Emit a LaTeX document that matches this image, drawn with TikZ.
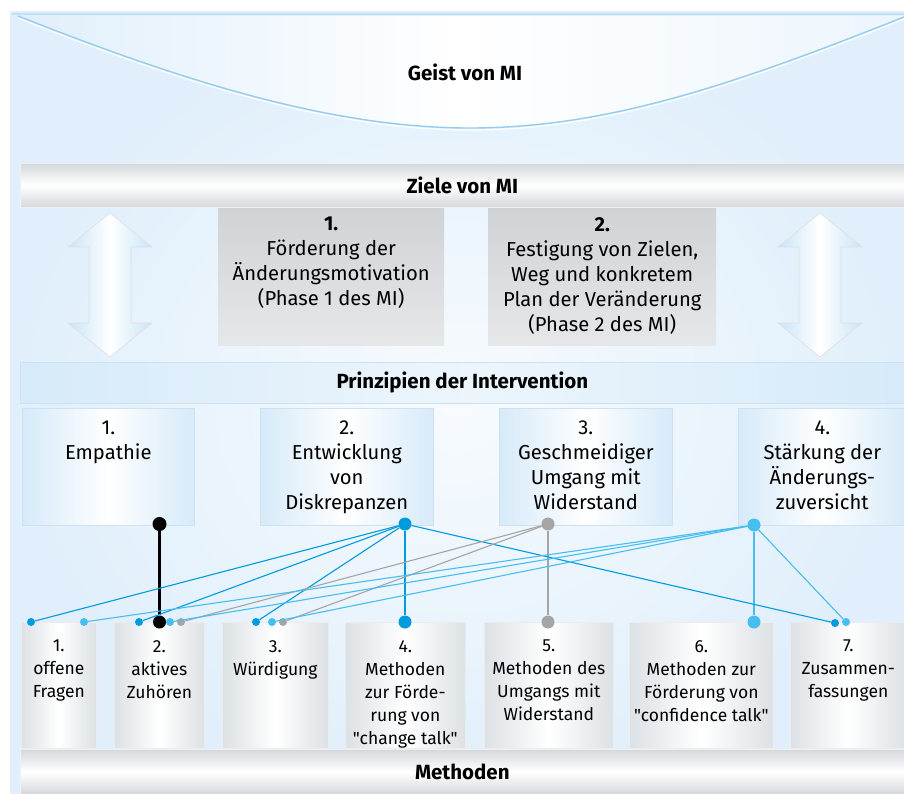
\documentclass[tikz,border=0pt]{standalone}
\usepackage{fontspec}
\setmainfont{Fira Sans}[Ligatures=TeXOff]
\usetikzlibrary{positioning}
\definecolor{bgblue}{RGB}{224,239,251}
\definecolor{edgeblue}{RGB}{205,225,240}
\definecolor{curveblue}{RGB}{150,205,238}
\definecolor{pblue}{RGB}{214,234,249}
\definecolor{bandgray}{RGB}{212,216,220}
\definecolor{goalgray}{RGB}{208,211,214}
\definecolor{mgray}{RGB}{220,225,229}
\definecolor{mblue}{RGB}{0,155,222}
\definecolor{lblue}{RGB}{70,190,240}
\definecolor{dgray}{RGB}{165,165,165}
\newcommand{\headfont}{\bfseries\fontsize{20.5}{24}\selectfont}
\newcommand{\boxfont}{\fontsize{20.2}{25}\selectfont}
\newcommand{\methfont}{\fontsize{17.5}{23}\selectfont}
\begin{document}
\begin{tikzpicture}[x=1pt,y=-1pt,
  grayband/.style={anchor=north west,inner sep=0pt,draw=white!88!gray,line width=0.6pt,
    top color=bandgray,bottom color=bandgray,middle color=white,font=\headfont},
  blueband/.style={anchor=north west,inner sep=0pt,draw=edgeblue,line width=0.6pt,
    left color=pblue,right color=pblue,middle color=white!55!pblue,font=\headfont},
  goalbox/.style={anchor=north west,inner sep=0pt,top color=goalgray,bottom color=goalgray!55},
  princbox/.style={anchor=north west,inner sep=0pt,draw=edgeblue,line width=0.6pt,
    left color=pblue,right color=pblue,middle color=white},
  methbox/.style={anchor=north west,inner sep=0pt,draw=white!85!gray,line width=0.6pt,
    left color=mgray,right color=mgray,middle color=white},
  boxtext/.style={align=center,inner sep=0pt,anchor=north,font=\boxfont},
  methtext/.style={align=center,inner sep=0pt,anchor=north,font=\methfont},
  updown/.style={left color=pblue!80!curveblue,right color=pblue!80!curveblue,middle color=white,
    draw=white!75!gray,line width=0.6pt},
  bigdot/.style={circle,inner sep=0pt,minimum size=13pt,fill=#1},
  smalldot/.style={circle,inner sep=0pt,minimum size=8pt,fill=#1},
  stem/.style={line width=2.6pt,#1},
  link/.style={line width=1.1pt,#1}]
\useasboundingbox (0,0) rectangle (904,793);
% background
\fill[bgblue] (10,11) rectangle (904,793);
\shade[inner color=white!75!bgblue,outer color=bgblue] (10,11) rectangle (904,793);
% Geist von MI
\path[left color=bgblue,right color=bgblue!60,middle color=white]
  (18,16) .. controls (180,80) and (330,128) .. (470,128)
  .. controls (610,128) and (740,82) .. (904,17) -- (904,16) -- cycle;
\draw[white,line width=1.2pt] (18,18) .. controls (180,82) and (330,130) .. (470,130)
  .. controls (610,130) and (740,84) .. (904,19);
\draw[curveblue,line width=1.4pt] (18,16) .. controls (180,80) and (330,128) .. (470,128)
  .. controls (610,128) and (740,82) .. (904,17);
\draw[curveblue!60,line width=2pt] (12,14) -- (904,14);
\node[font=\headfont] (geist) at (465,72) {Geist von MI};

% Ziele von MI
\node[grayband,minimum width=884,minimum height=44] (ziele) at (20,163) {Ziele von MI};
\node[goalbox,minimum width=226,minimum height=137] (g1) at (218,208) {};
\node[goalbox,minimum width=228,minimum height=137] (g2) at (488,208) {};
\node[boxtext,below=9pt of g1.north] (g1t)
  {\textbf{1.}\\Förderung der\\Änderungsmotivation\\(Phase 1 des MI)};
\node[boxtext,below=9pt of g2.north] (g2t)
  {\textbf{2.}\\Festigung von Zielen,\\Weg und konkretem\\Plan der Veränderung\\(Phase 2 des MI)};
\path[updown] (110,213) -- (152,247) -- (131,247) -- (131,323) -- (152,323) -- (110,357)
  -- (68,323) -- (89,323) -- (89,247) -- (68,247) -- cycle;
\path[updown] (820,213) -- (862,247) -- (841,247) -- (841,323) -- (862,323) -- (820,357)
  -- (778,323) -- (799,323) -- (799,247) -- (778,247) -- cycle;

% Prinzipien der Intervention
\node[blueband,minimum width=884,minimum height=41] (prinz) at (20,362) {Prinzipien der Intervention};
\node[princbox,minimum width=172,minimum height=117] (p1) at (22,408) {};
\node[princbox,minimum width=173,minimum height=117] (p2) at (260,408) {};
\node[princbox,minimum width=173,minimum height=117] (p3) at (499,408) {};
\node[princbox,minimum width=168,minimum height=117] (p4) at (738,408) {};
\node[boxtext,below=13pt of p1.north] (p1t) {1.\\Empathie};
\node[boxtext,below=13pt of p2.north] (p2t) {2.\\Entwicklung\\von\\Diskrepanzen};
\node[boxtext,below=13pt of p3.north] (p3t) {3.\\Geschmeidiger\\Umgang mit\\Widerstand};
\node[boxtext,below=13pt of p4.north] (p4t) {4.\\Stärkung der\\Änderungs-\\zuversicht};

% Methoden
\node[methbox,minimum width=75,minimum height=126] (m1) at (21,622) {};
\node[methbox,minimum width=90,minimum height=126] (m2) at (114,622) {};
\node[methbox,minimum width=106,minimum height=126] (m3) at (222,622) {};
\node[methbox,minimum width=120,minimum height=126] (m4) at (345,622) {};
\node[methbox,minimum width=129,minimum height=126] (m5) at (484,622) {};
\node[methbox,minimum width=144,minimum height=126] (m6) at (629,622) {};
\node[methbox,minimum width=116,minimum height=126] (m7) at (790,622) {};
\node[methtext,below=18pt of m1.north] (m1t) {1.\\offene\\Fragen};
\node[methtext,below=18pt of m2.north] (m2t) {2.\\aktives\\Zuhören};
\node[methtext,below=18pt of m3.north] (m3t) {3.\\Würdigung};
\node[methtext,below=18pt of m4.north] (m4t) {4.\\Methoden\\zur Förde-\\rung von\\"change talk"};
\node[methtext,below=18pt of m5.north] (m5t) {5.\\Methoden des\\Umgangs mit\\Widerstand};
\node[methtext,below=18pt of m6.north] (m6t) {6.\\Methoden zur\\Förderung von\\"confidence talk"};
\node[methtext,below=18pt of m7.north] (m7t) {7.\\Zusammen-\\fassungen};
\node[grayband,minimum width=884,minimum height=45] (meth) at (20,749) {Methoden};

% dots
\node[bigdot=black,minimum size=14pt] (p1d) at (159.5,524) {};
\node[bigdot=mblue] (p2d) at (405,524) {};
\node[bigdot=dgray] (p3d) at (548,524) {};
\node[bigdot=lblue] (p4d) at (754,525) {};
\node[smalldot=mblue] (m1a) at (31,622) {};
\node[smalldot=lblue] (m1b) at (84,622) {};
\node[smalldot=mblue] (m2a) at (139,622) {};
\node[bigdot=black] (m2b) at (159.5,622) {};
\node[smalldot=lblue] (m2c) at (170,622) {};
\node[smalldot=dgray] (m2d) at (181,622) {};
\node[smalldot=mblue] (m3a) at (256,622) {};
\node[smalldot=lblue] (m3b) at (272,622) {};
\node[smalldot=dgray] (m3c) at (283,622) {};
\node[bigdot=mblue] (m4d) at (405,622) {};
\node[bigdot=dgray] (m5d) at (548,622) {};
\node[bigdot=lblue] (m6d) at (754,622) {};
\node[smalldot=mblue] (m7a) at (835,623) {};
\node[smalldot=lblue] (m7b) at (846,622) {};

% connections
\draw[stem=black,line width=3pt] (p1d) -- (m2b);
\draw[stem=mblue] (p2d) -- (m4d);
\draw[stem=dgray] (p3d) -- (m5d);
\draw[stem=lblue] (p4d) -- (m6d);
\foreach \t in {m1a,m2a,m3a,m7a} \draw[link=mblue] (p2d) -- (\t);
\foreach \t in {m2d,m3c} \draw[link=dgray] (p3d) -- (\t);
\foreach \t in {m1b,m2c,m3b,m7b} \draw[link=lblue] (p4d) -- (\t);
\end{tikzpicture}
\end{document}
